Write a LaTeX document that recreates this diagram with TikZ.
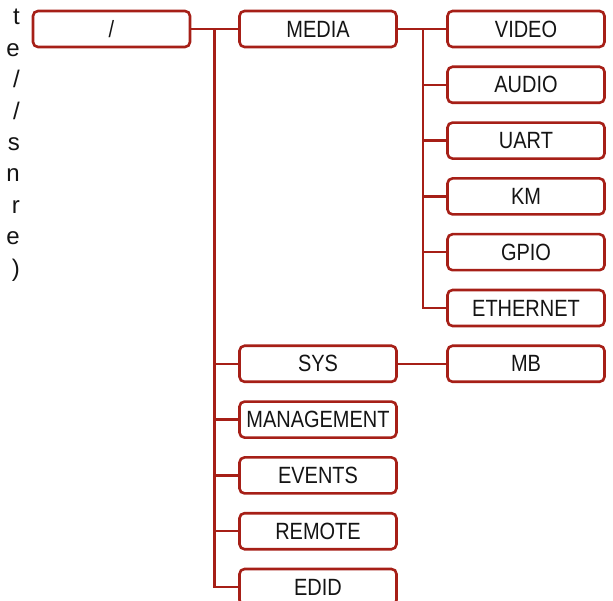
\documentclass[tikz,border=0pt]{standalone}
\usepackage{fontspec}
\setmainfont{Liberation Sans}
\newfontfamily\condfont[FakeStretch=0.85]{Liberation Sans}
\definecolor{boxred}{RGB}{166,31,23}
\definecolor{txt}{RGB}{20,20,20}
\begin{document}
\begin{tikzpicture}[x=1pt,y=-1pt,
  tbox/.style={draw=boxred,line width=2.6pt,rounded corners=5pt,fill=white,
    minimum width=157pt,minimum height=36pt,inner sep=0pt,
    font=\condfont\fontsize{23.5}{25}\selectfont,text=txt},
  conn/.style={draw=boxred,line width=2.3pt},
  side/.style={anchor=base east,inner sep=0pt,font=\fontsize{24}{26}\selectfont,text=txt}]
\useasboundingbox (0,0) rectangle (613,601);
\def\rowsp{55.8}
% left clipped text
\foreach \c [count=\i from 0] in {t,e,/,/,s,n,r,e,)}{
  \node[side] (s\i) at (20,25+31.4*\i) {\c};
}
\node[tbox] (root) at (111.5,29) {/};
\node[tbox] (media) at (318,29) {MEDIA};
\node[tbox] (sys) at (318,29+6*\rowsp) {SYS};
\node[tbox] (mgmt) at (318,29+7*\rowsp) {MANAGEMENT};
\node[tbox] (events) at (318,29+8*\rowsp) {EVENTS};
\node[tbox] (remote) at (318,29+9*\rowsp) {REMOTE};
\node[tbox] (edid) at (318,29+10*\rowsp) {EDID};
\node[tbox] (video) at (526,29) {VIDEO};
\node[tbox] (audio) at (526,29+1*\rowsp) {AUDIO};
\node[tbox] (uart) at (526,29+2*\rowsp) {UART};
\node[tbox] (km) at (526,29+3*\rowsp) {KM};
\node[tbox] (gpio) at (526,29+4*\rowsp) {GPIO};
\node[tbox] (eth) at (526,29+5*\rowsp) {ETHERNET};
\node[tbox] (mb) at (526,29+6*\rowsp) {MB};
\coordinate (t1) at (214.5,29);
\coordinate (t2) at (423,29);
\draw[conn] (root.east) -- (media.west);
\foreach \n in {sys,mgmt,events,remote,edid}{\draw[conn] (t1) |- (\n.west);}
\draw[conn] (media.east) -- (video.west);
\foreach \n in {audio,uart,km,gpio,eth}{\draw[conn] (t2) |- (\n.west);}
\draw[conn] (sys.east) -- (mb.west);
\end{tikzpicture}
\end{document}
